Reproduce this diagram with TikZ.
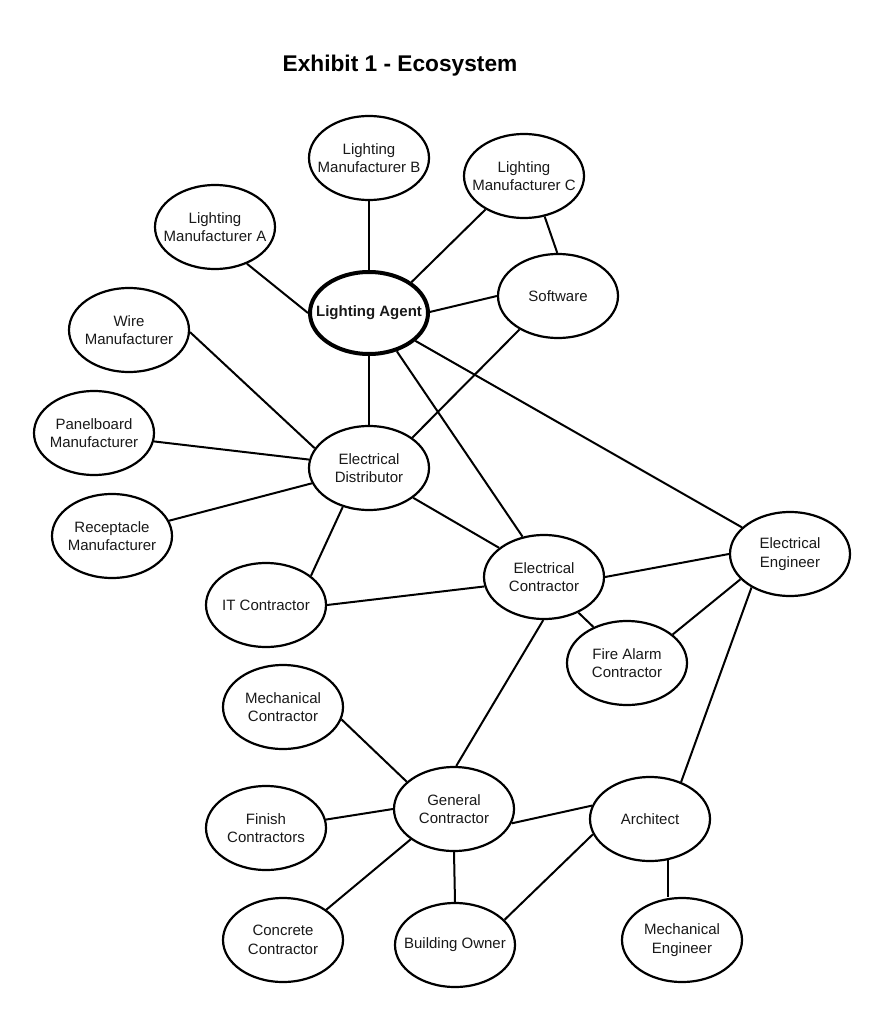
\documentclass[tikz,border=0pt]{standalone}
\usepackage{fontspec}
\setmainfont{Liberation Sans}
\usetikzlibrary{shapes.geometric}
\tikzset{
  ell/.style={ellipse, draw=black, line width=2.2pt, minimum width=120pt, minimum height=84pt, inner sep=0pt, fill=white},
  hub/.style={ell, line width=4pt, minimum width=118pt, minimum height=82pt},
  txt/.style={align=center, inner sep=0pt, font=\fontsize{15}{18.5}\selectfont, text=black!90},
  conn/.style={draw=black, line width=2pt},
  ttl/.style={font=\bfseries\fontsize{22.7}{26}\selectfont, anchor=base, inner sep=0pt}
}
\newcommand{\ellnode}[5][ell]{%
  \node[#1] (#2) at (#3,#4) {};
  \node[txt] (#2-t) at (#2) {#5};}
\begin{document}
\begin{tikzpicture}[x=1pt,y=-1pt]
\useasboundingbox[fill=white] (0,0) rectangle (885,1024);
\node[ttl] (title) at (400,72) {Exhibit 1 - Ecosystem};

\ellnode{lmb}{369}{158}{Lighting\\Manufacturer B}
\ellnode{lmc}{524}{176}{Lighting\\Manufacturer C}
\ellnode{lma}{215}{227}{Lighting\\Manufacturer A}
\ellnode[hub]{la}{369}{313}{\textbf{Lighting Agent}}
\ellnode{sw}{558}{296}{Software}
\ellnode{wi}{129}{330}{Wire\\Manufacturer}
\ellnode{pb}{94}{433}{Panelboard\\Manufacturer}
\ellnode{rc}{112}{536}{Receptacle\\Manufacturer}
\ellnode{ed}{369}{468}{Electrical\\Distributor}
\ellnode{it}{266}{605}{IT Contractor}
\ellnode{ec}{544}{577}{Electrical\\Contractor}
\ellnode{ee}{790}{554}{Electrical\\Engineer}
\ellnode{fa}{627}{663}{Fire Alarm\\Contractor}
\ellnode{mc}{283}{707}{Mechanical\\Contractor}
\ellnode{gc}{454}{809}{General\\Contractor}
\ellnode{fi}{266}{828}{Finish\\Contractors}
\ellnode{ar}{650}{819}{Architect}
\ellnode{co}{283}{940}{Concrete\\Contractor}
\ellnode{bo}{455}{945}{Building Owner}
\ellnode{me}{682}{940}{Mechanical\\Engineer}

\draw[conn] (la.180) -- (lma.311);
\draw[conn] (la.90) -- (lmb.270);
\draw[conn] (la.36) -- (lmc.221);
\draw[conn] (lmc.297) -- (sw.91);
\draw[conn] (la.1) -- (sw.180);
\draw[conn] (la.270) -- (ed.90);
\draw[conn] (la.306) -- (ec.118);
\draw[conn] (la.329) -- (ee.151);
\draw[conn] (sw.221) -- (ed.35);
\draw[conn] (wi.358) -- (ed.160);
\draw[conn] (pb.352) -- (ed.172);
\draw[conn] (rc.15) -- (ed.195);
\draw[conn] (ed.236) -- (it.33);
\draw[conn] (ed.326) -- (ec.147);
\draw[conn] (it.0) -- (ec.189);
\draw[conn] (ec.0) -- (ee.180);
\draw[conn] (ec.314) -- (fa.133);
\draw[conn] (fa.32) -- (ee.207);
\draw[conn] (ee.221) -- (ar.50);
\draw[conn] (ec.269) -- (gc.87);
\draw[conn] (gc.150) -- (mc.348);
\draw[conn] (gc.180) -- (fi.8);
\draw[conn] (gc.215) -- (co.35);
\draw[conn] (gc.270) -- (bo.90);
\draw[conn] (gc.346) -- (ar.167);
\draw[conn] (ar.195) -- (bo.27);
\draw[conn] (ar.293) -- (ar.293 |- me.north);
\end{tikzpicture}
\end{document}
